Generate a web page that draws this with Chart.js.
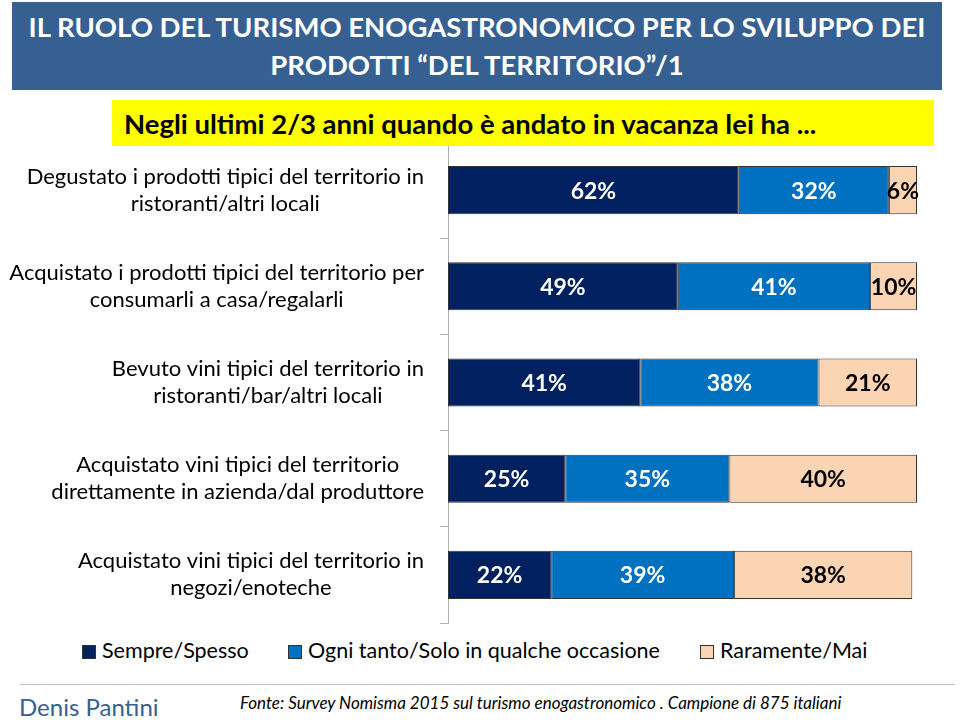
<!DOCTYPE html>
<html>
<head>
<meta charset="utf-8">
<script src="https://cdn.jsdelivr.net/npm/chart.js@4/dist/chart.umd.min.js"></script>
<style>
  body { margin: 0; background: #fff; font-family: Lato, "Open Sans", sans-serif; }
  #page { position: relative; width: 960px; height: 720px; overflow: hidden; }
  #title {
    position: absolute; left: 12px; top: 2px; width: 930px; height: 88px;
    background: #376092; color: #fff; font-weight: bold; font-size: 27.5px;
    text-align: center; line-height: 38px; padding-top: 6px; box-sizing: border-box;
    z-index: 2;
  }
  #sub {
    position: absolute; left: 112px; top: 100px; width: 822px; height: 46px;
    background: #ffff00; color: #000; font-weight: bold; font-size: 27.5px;
    line-height: 48px; padding-left: 12px; box-sizing: border-box; z-index: 2;
  }
  #chartBox { position: absolute; left: 0; top: 130px; width: 960px; height: 500px; }
  #legend { position: absolute; left: 0; top: 637px; width: 960px; height: 26px; font-size: 21.5px; }
  #legend span.item { position: absolute; top: 0; line-height: 26px; white-space: nowrap; }
  #legend span.box { display: inline-block; width: 12px; height: 12px; border: 1px solid #333; margin-right: 6px; vertical-align: -1px; }
  #rule { position: absolute; left: 20px; top: 684px; width: 935px; height: 1px; background: #b8c8d4; }
  #author { position: absolute; left: 19px; top: 692px; font-size: 24px; line-height: 30px; color: #376092; }
  #source { position: absolute; left: 240px; top: 692px; font-size: 17px; line-height: 22px; font-style: italic; color: #000; }
</style>
</head>
<body>
<div id="page">
  <div id="title">IL RUOLO DEL TURISMO ENOGASTRONOMICO PER LO SVILUPPO DEI<br>PRODOTTI “DEL TERRITORIO”/1</div>
  <div id="sub">Negli ultimi 2/3 anni quando è andato in vacanza lei ha ...</div>
  <div id="chartBox"><canvas id="chart" width="960" height="500"></canvas></div>
  <div id="legend"></div>
  <div id="rule"></div>
  <div id="author">Denis Pantini</div>
  <div id="source">Fonte: Survey Nomisma 2015 sul turismo enogastronomico . Campione di 875 italiani</div>
</div>
<script>
// categorie (asse y)
const categories = [
  ['Degustato i prodotti tipici del territorio in', 'ristoranti/altri locali'],
  ['Acquistato i prodotti tipici del territorio per', 'consumarli a casa/regalarli'],
  ['Bevuto vini tipici del territorio in', 'ristoranti/bar/altri locali'],
  ['Acquistato vini tipici del territorio', 'direttamente in azienda/dal produttore'],
  ['Acquistato vini tipici del territorio in', 'negozi/enoteche']
];
// serie (%)
const sempre = [62, 49, 41, 25, 22];
const ogniTanto = [32, 41, 38, 35, 39];
const raramente = [6, 10, 21, 40, 38];
const seriesNames = ['Sempre/Spesso', 'Ogni tanto/Solo in qualche occasione', 'Raramente/Mai'];
const seriesColors = ['#002060', '#0070C0', '#FBD4B4'];
const labelColors = ['#fff', '#fff', '#000'];

// plugin etichette sui segmenti
const barLabels = {
  id: 'barLabels',
  afterDatasetsDraw(chart) {
    const ctx = chart.ctx;
    ctx.save();
    ctx.font = 'bold 23px Lato, sans-serif';
    ctx.textAlign = 'center';
    ctx.textBaseline = 'middle';
    chart.data.datasets.forEach((ds, i) => {
      chart.getDatasetMeta(i).data.forEach((bar, j) => {
        const p = bar.getProps(['x', 'y', 'base'], true);
        ctx.fillStyle = labelColors[i];
        ctx.fillText(ds.data[j] + '%', (p.x + p.base) / 2, p.y + 1);
      });
    });
    ctx.restore();
  }
};

// etichette categorie: blocco allineato a destra, righe centrate tra loro
const catLabels = {
  id: 'catLabels',
  afterDraw(chart) {
    const ctx = chart.ctx;
    const y = chart.scales.y;
    const right = y.right - 24;
    const lh = 27;
    ctx.save();
    ctx.font = '22px Lato, sans-serif';
    ctx.fillStyle = '#000';
    ctx.textAlign = 'center';
    ctx.textBaseline = 'middle';
    categories.forEach((lines, i) => {
      const cy = y.getPixelForTick(i);
      const w = Math.max(...lines.map(l => ctx.measureText(l).width));
      const cx = right - w / 2;
      lines.forEach((l, k) => {
        ctx.fillText(l, cx, cy + (k - (lines.length - 1) / 2) * lh);
      });
    });
    ctx.restore();
  }
};

const ctx = document.getElementById('chart').getContext('2d');
new Chart(ctx, {
  type: 'bar',
  data: {
    labels: categories,
    datasets: [sempre, ogniTanto, raramente].map((d, i) => ({
      label: seriesNames[i],
      data: d,
      backgroundColor: seriesColors[i],
      borderColor: '#333',
      borderWidth: 1,
      borderSkipped: false,
      barPercentage: 0.5,
      categoryPercentage: 1
    }))
  },
  options: {
    indexAxis: 'y',
    responsive: false,
    animation: false,
    layout: { padding: { top: 12, right: 43, bottom: 7 } },
    plugins: { legend: { display: false }, tooltip: { enabled: false } },
    scales: {
      x: { stacked: true, min: 0, max: 100, display: false },
      y: {
        stacked: true,
        afterFit: (scale) => {
          scale.width = 448;
          scale.paddingTop = 0;
          scale.paddingBottom = 0;
        },
        border: { color: '#b0b0b0', width: 1 },
        grid: { drawOnChartArea: false, tickLength: 8, color: '#b0b0b0', offset: true },
        ticks: { display: false }
      }
    }
  },
  plugins: [barLabels, catLabels]
});

// legenda
const legendX = [82, 288, 700];
const legend = document.getElementById('legend');
seriesNames.forEach((n, i) => {
  const s = document.createElement('span');
  s.className = 'item';
  s.style.left = legendX[i] + 'px';
  s.innerHTML = '<span class="box" style="background:' + seriesColors[i] + '"></span>' + n;
  legend.appendChild(s);
});
</script>
</body>
</html>
